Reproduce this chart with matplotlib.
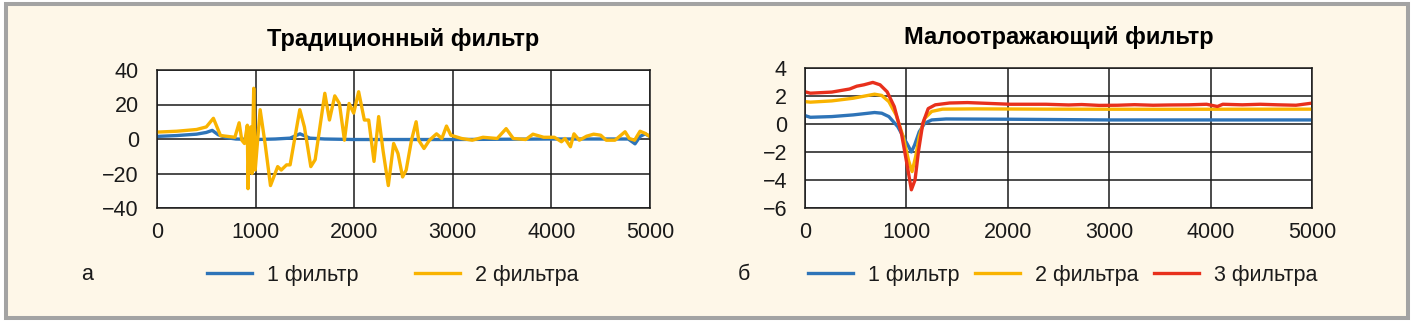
import matplotlib
matplotlib.use("Agg")
import matplotlib.pyplot as plt
from matplotlib.patches import Rectangle
from matplotlib.lines import Line2D

plt.rcParams['font.family'] = ['Liberation Sans', 'DejaVu Sans']

# ---------------- data ----------------
title_a = "Традиционный фильтр"
title_b = "Малоотражающий фильтр"
labels_a = ["1 фильтр", "2 фильтра"]
labels_b = ["1 фильтр", "2 фильтра", "3 фильтра"]
panel_a = "а"
panel_b = "б"

# Panel a: traditional filter
a1_x = [0, 200, 400, 500, 560, 620, 700, 800, 1000, 1200, 1350, 1450, 1550, 1700, 2000,
        3000, 4000, 4500, 4780, 4848, 4900, 4950, 5000]
a1_y = [1.5, 2.0, 2.8, 3.8, 5.0, 2.5, 0.8, 0.0, -0.3, 0.0, 0.5, 3.0, 0.5, 0.0, -0.3,
        -0.3, 0.0, 0.0, 0.0, -2.8, 1.5, 3.0, 1.5]

a2_x = [0, 200, 400, 500, 572, 644, 790, 833, 860, 887, 916, 923, 935, 950, 963, 981, 996,
        1046, 1097, 1151, 1224, 1260, 1314, 1350, 1448, 1495, 1560, 1604, 1702, 1749, 1803,
        1850, 1901, 1948, 1995, 2045, 2103, 2147, 2201, 2248, 2292, 2346, 2400, 2444, 2491,
        2527, 2581, 2628, 2654, 2708, 2763, 2835, 2889, 2936, 2980, 3089, 3197, 3306, 3450,
        3541, 3613, 3740, 3813, 3921, 4030, 4102, 4138, 4193, 4229, 4283, 4356, 4428, 4500,
        4555, 4645, 4747, 4790, 4844, 4899, 4953, 5000]
a2_y = [4.0, 4.5, 5.5, 7.0, 12.0, 2.0, 1.0, 9.4, -0.7, -2.6, 8.0, -28.8, -2.0, 7.0, -20.0,
        29.4, -18.0, 17.0, -3.0, -27.0, -16.0, -18.0, -15.0, -15.0, 17.0, 7.0, -16.0, -12.0,
        26.5, 11.0, 25.0, 20.6, -0.7, 20.6, 15.0, 27.4, 11.0, 11.0, -13.0, 13.0, -6.5, -27.0,
        -2.6, -8.4, -22.0, -18.0, -0.7, 10.0, -0.7, -5.5, -0.7, 3.0, 0.3, 7.5, 2.2, 0.3,
        -0.7, 1.0, 0.3, 6.0, 0.3, -0.3, 2.8, 1.0, 1.0, -1.6, 0.3, -4.5, 3.0, -0.7, 1.6, 2.8,
        2.2, -0.7, -0.7, 4.2, 0.3, -0.7, 4.5, 3.2, 1.3]

# Panel b: low-reflection filter
b1_x = [0, 53, 264, 475, 686, 757, 827, 915, 968, 1021, 1049, 1081, 1127, 1180, 1250, 1391,
        2025, 3000, 4000, 5000]
b1_y = [0.6, 0.48, 0.53, 0.65, 0.82, 0.77, 0.53, -0.19, -0.9, -1.6, -2.0, -1.5, -0.55, 0.05,
        0.29, 0.36, 0.34, 0.29, 0.29, 0.29]

b2_x = [0, 53, 264, 475, 686, 757, 827, 898, 968, 1021, 1056, 1092, 1127, 1180, 1250, 1356,
        1673, 2377, 3500, 5000]
b2_y = [1.6, 1.56, 1.65, 1.84, 2.13, 2.04, 1.6, 0.65, -0.9, -2.6, -3.4, -2.3, -0.9, 0.4,
        0.9, 1.06, 1.08, 1.06, 1.05, 1.06]

b3_x = [0, 53, 264, 440, 510, 581, 669, 740, 810, 880, 951, 1004, 1049, 1085, 1120, 1162,
        1215, 1285, 1426, 1602, 1849, 2025, 2377, 2600, 2729, 2900, 3081, 3250, 3433, 3600,
        3785, 3961, 4067, 4120, 4313, 4489, 4665, 4842, 5000]
b3_y = [2.3, 2.2, 2.28, 2.5, 2.7, 2.8, 2.97, 2.8, 2.3, 1.25, -0.67, -2.8, -4.7, -4.0, -1.9,
        0.05, 1.1, 1.37, 1.5, 1.53, 1.46, 1.41, 1.41, 1.36, 1.39, 1.33, 1.34, 1.38, 1.34, 1.36,
        1.37, 1.41, 1.25, 1.41, 1.37, 1.41, 1.37, 1.34, 1.49]

xticks = [0, 1000, 2000, 3000, 4000, 5000]
yticks_a = [-40, -20, 0, 20, 40]
yticks_b = [-6, -4, -2, 0, 2, 4]

# ---------------- style ----------------
BLUE = '#2e74b8'
YELLOW = '#f9b300'
RED = '#e8301c'
CREAM = '#fef7e8'
W, H = 1412, 324
FS = 15.5
TFS = 17
LW = 2.4

fig = plt.figure(figsize=(W / 100, H / 100), dpi=100, facecolor='white')
fig.patches.append(Rectangle((6 / W, 1 - 318 / H), (1408 - 6) / W, (318 - 3.5) / H,
                             transform=fig.transFigure, facecolor=CREAM,
                             edgecolor='#a3a3a3', linewidth=2.9, zorder=-10))


def px_axes(l, t, r, b):
    return fig.add_axes([l / W, 1 - b / H, (r - l) / W, (b - t) / H])


def style(ax, yticks):
    ax.set_facecolor('white')
    ax.set_xlim(0, 5000)
    ax.set_xticks(xticks)
    ax.set_yticks(yticks)
    ax.set_ylim(yticks[0], yticks[-1])
    ax.grid(True, color='#1a1a1a', linewidth=1.1)
    ax.set_axisbelow(True)
    for s in ax.spines.values():
        s.set_color('#1a1a1a')
        s.set_linewidth(1.1)
    ax.tick_params(axis='both', length=0, labelsize=FS, colors='#1a1a1a')
    ax.tick_params(axis='x', pad=10)
    ax.tick_params(axis='y', pad=13)


ax1 = px_axes(157, 70, 650, 208)
style(ax1, yticks_a)
ax1.plot(a1_x, a1_y, color=BLUE, lw=LW, solid_joinstyle='round')
ax1.plot(a2_x, a2_y, color=YELLOW, lw=LW, solid_joinstyle='round')
ax1.set_title(title_a, fontsize=TFS, fontweight='bold', pad=17)

ax2 = px_axes(805, 68, 1312, 208)
style(ax2, yticks_b)
ax2.plot(b1_x, b1_y, color=BLUE, lw=LW, solid_joinstyle='round')
ax2.plot(b2_x, b2_y, color=YELLOW, lw=LW, solid_joinstyle='round')
ax2.plot(b3_x, b3_y, color=RED, lw=LW, solid_joinstyle='round')
ax2.set_title(title_b, fontsize=TFS, fontweight='bold', pad=17)

# legends
ha = [Line2D([], [], color=c, lw=LW) for c in (BLUE, YELLOW)]
hb = [Line2D([], [], color=c, lw=LW) for c in (BLUE, YELLOW, RED)]
leg_y = 1 - 275 / H
fig.legend(ha, labels_a, loc='center left', bbox_to_anchor=(207 / W, leg_y),
           bbox_transform=fig.transFigure, ncol=2, frameon=False, fontsize=FS,
           handlelength=2.1, handletextpad=0.7, columnspacing=2.6, borderpad=0,
           borderaxespad=0, labelcolor='#1a1a1a')
fig.legend(hb, labels_b, loc='center left', bbox_to_anchor=(808 / W, leg_y),
           bbox_transform=fig.transFigure, ncol=3, frameon=False, fontsize=FS,
           handlelength=2.1, handletextpad=0.7, columnspacing=0.7, borderpad=0,
           borderaxespad=0, labelcolor='#1a1a1a')
fig.text(81 / W, leg_y, panel_a, fontsize=FS, ha='left', va='center', color='#1a1a1a')
fig.text(738 / W, leg_y, panel_b, fontsize=FS, ha='left', va='center', color='#1a1a1a')

fig.savefig('out.png', dpi=100, facecolor=fig.get_facecolor())
